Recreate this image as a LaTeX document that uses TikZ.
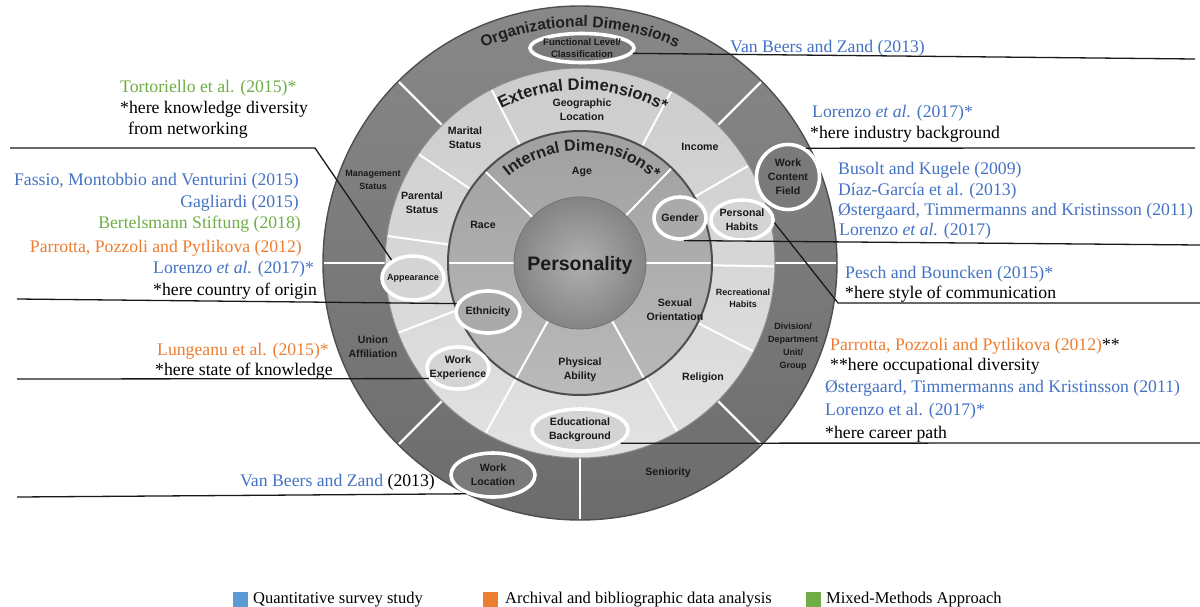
\documentclass[tikz,border=0pt]{standalone}
\usepackage{fontspec}
\setmainfont{Liberation Serif}
\newfontfamily\wf{Liberation Sans}
\usetikzlibrary{shapes.geometric,decorations.text}
\definecolor{cblue}{RGB}{68,114,196}
\definecolor{corange}{RGB}{237,125,49}
\definecolor{cgreen}{RGB}{112,173,71}
\definecolor{lblue}{RGB}{91,155,213}
\definecolor{orgtop}{RGB}{136,136,136}
\definecolor{orgbot}{RGB}{108,108,108}
\definecolor{orgfill}{RGB}{122,122,122}
\definecolor{exttop}{RGB}{204,204,204}
\definecolor{extbot}{RGB}{226,226,226}
\definecolor{extfill}{RGB}{212,212,212}
\definecolor{inttop}{RGB}{160,160,160}
\definecolor{intbot}{RGB}{186,186,186}
\definecolor{intfill}{RGB}{170,170,170}
\definecolor{pers1}{RGB}{176,176,176}
\definecolor{pers2}{RGB}{132,132,132}
\definecolor{edgegray}{RGB}{78,78,78}
\tikzset{
  cite/.style={inner sep=0pt, anchor=base west, font=\fontsize{17.7}{20}\selectfont},
  citer/.style={cite, anchor=base east},
  wl/.style={inner sep=0pt, align=center, text=black!90, font=\wf\bfseries\fontsize{10.6}{14}\selectfont},
  wls/.style={wl, font=\wf\bfseries\fontsize{9}{12.5}\selectfont},
  hl/.style={ellipse, draw=white, line width=3.6pt, inner sep=0pt},
  conn/.style={line width=1.3pt, black!90},
  divider/.style={white, line width=2pt},
  legsq/.style={minimum width=15pt, minimum height=15pt, inner sep=0pt},
  legt/.style={inner sep=0pt, anchor=base west, font=\fontsize{16.5}{18}\selectfont},
}
\begin{document}
\begin{tikzpicture}[x=1pt,y=1pt]
\useasboundingbox (0,0) rectangle (1200,-606);
\fill[white] (0,0) rectangle (1200,-606);
\clip (0,0) rectangle (1200,-606);

% ---------------- wheel ----------------
\begin{scope}[shift={(580,-263)}]
  \shade[top color=orgtop, bottom color=orgbot] (0,0) circle (257);
  \foreach \a in {0,45,135,180,225,270,315}
    \draw[divider, line width=2.4pt] (\a:195) -- (\a:256);
  \draw[edgegray, line width=1.4pt] (0,0) circle (257);
  \shade[top color=exttop, bottom color=extbot] (0,0) circle (195);
  \draw[black!45, line width=1pt] (0,0) circle (195);
  \foreach \a in {-1,30,62,117,146,172,201,241,300,333}
    \draw[divider] (\a:132) -- (\a:194);
  \shade[top color=inttop, bottom color=intbot] (0,0) circle (132);
  \draw[edgegray, line width=2pt] (0,0) circle (132);
  \foreach \a in {0,46,136,180,241,299}
    \draw[divider] (\a:66) -- (\a:131);
  \shade[inner color=pers1, outer color=pers2] (0,0) circle (66);
  \draw[black!55, line width=0.8pt] (0,0) circle (66);

  \path[decorate, decoration={text along path, text align=center,
     text={|\wf\bfseries\fontsize{15.5}{16}\selectfont\color{black!88}|Organizational Dimensions}}]
     (165:236) arc[start angle=165, end angle=15, radius=236];
  \path[decorate, decoration={text along path, text align=center,
     text={|\wf\bfseries\fontsize{16.5}{17}\selectfont\color{black!88}|External Dimensions*}}]
     (165:173) arc[start angle=165, end angle=13, radius=173];
  \path[decorate, decoration={text along path, text align=center,
     text={|\wf\bfseries\fontsize{16}{17}\selectfont\color{black!88}|Internal Dimensions*}}]
     (170:112) arc[start angle=170, end angle=8, radius=112];
\end{scope}

% plain wheel labels
\node[wl] (geo) at (582,-109.5) {Geographic\\Location};
\node[wl] (mar) at (465,-137.5) {Marital\\Status};
\node[wl] (inc) at (700,-147) {Income};
\node[wl] (age) at (582,-172) {Age};
\node[wls] (mgmt) at (373,-180) {Management\\Status};
\node[wl] (par) at (422,-202.5) {Parental\\Status};
\node[wl] (race) at (483,-225) {Race};
\node[wl, font=\wf\bfseries\fontsize{19.5}{20}\selectfont] (pers) at (580,-265) {Personality};
\node[wl] (sex) at (675,-310) {Sexual\\Orientation};
\node[wls] (rec) at (743,-298.5) {Recreational\\Habits};
\node[wl] (union) at (373,-346.5) {Union\\Affiliation};
\node[wl] (phys) at (580,-369.5) {Physical\\Ability};
\node[wl] (rel) at (703,-378) {Religion};
\node[wls, font=\wf\bfseries\fontsize{9}{13}\selectfont] (div) at (793,-347) {Division/\\Department\\Unit/\\Group};
\node[wl] (sen) at (668,-473) {Seniority};

% highlighted ellipses
\node[hl, fill=orgfill, minimum width=104, minimum height=29] (func) at (582,-48) {};
\node[hl, fill=orgfill, minimum width=63, minimum height=65] (wcf) at (788,-177) {};
\node[hl, fill=extfill, minimum width=62, minimum height=40] (ph) at (742,-220) {};
\node[hl, fill=intfill, minimum width=52, minimum height=42] (gender) at (680,-218) {};
\node[hl, fill=extfill, minimum width=62, minimum height=44] (app) at (413,-278) {};
\node[hl, fill=intfill, minimum width=64, minimum height=42] (eth) at (488,-312) {};
\node[hl, fill=extfill, minimum width=62, minimum height=42] (wexp) at (458,-368) {};
\node[hl, fill=extfill, minimum width=96, minimum height=42] (edu) at (580,-430) {};
\node[hl, fill=orgfill, minimum width=84, minimum height=44] (wloc) at (493,-475) {};

\node[wl, font=\wf\bfseries\fontsize{9.5}{12.5}\selectfont] (funct) at (func.center) {Functional Level/\\Classification};
\node[wl] (wcft) at (wcf.center) {Work\\Content\\Field};
\node[wl] (pht) at (ph.center) {Personal\\Habits};
\node[wl] (gent) at (gender.center) {Gender};
\node[wls] (appt) at (app.center) {Appearance};
\node[wl] (etht) at (eth.center) {Ethnicity};
\node[wl] (wexpt) at (wexp.center) {Work\\Experience};
\node[wl] (edut) at (edu.center) {Educational\\Background};
\node[wl] (wloct) at (wloc.center) {Work\\Location};

% ---------------- citations left ----------------
\node[cite, text=cgreen] (t1) at (120,-92) {Tortoriello et al. (2015)*};
\node[cite] (t2) at (120,-113) {*here knowledge diversity};
\node[cite] (t3) at (128,-134) {from networking};
\node[citer, text=cblue] (t4) at (299,-185) {Fassio, Montobbio and Venturini (2015)};
\node[citer, text=cblue] (t5) at (299,-207) {Gagliardi (2015)};
\node[citer, text=cgreen] (t6) at (301,-228) {Bertelsmann Stiftung (2018)};
\node[citer, text=corange] (t7) at (302,-252) {Parrotta, Pozzoli and Pytlikova (2012)};
\node[cite, text=cblue] (t8) at (153,-273) {Lorenzo \textit{et al.} (2017)*};
\node[cite] (t9) at (153,-295) {*here country of origin};
\node[cite, text=corange] (t10) at (157,-355) {Lungeanu et al. (2015)*};
\node[cite] (t11) at (155,-375) {*here state of knowledge};
\node[citer] (t12) at (435,-486) {\textcolor{cblue}{Van Beers and Zand} (2013)};

% ---------------- citations right ----------------
\node[cite, text=cblue] (r1) at (730,-52) {Van Beers and Zand (2013)};
\node[cite, text=cblue] (r2) at (812,-117) {Lorenzo \textit{et al.} (2017)*};
\node[cite] (r3) at (810,-138) {*here industry background};
\node[cite, text=cblue] (r4) at (838,-174) {Busolt and Kugele (2009)};
\node[cite, text=cblue] (r5) at (838,-195) {Díaz-García et al. (2013)};
\node[cite, text=cblue] (r6) at (838,-215) {Østergaard, Timmermanns and Kristinsson (2011)};
\node[cite, text=cblue] (r7) at (839,-235) {Lorenzo \textit{et al.} (2017)};
\node[cite, text=cblue] (r8) at (845,-278) {Pesch and Bouncken (2015)*};
\node[cite] (r9) at (845,-298) {*here style of communication};
\node[cite] (r10) at (830,-350) {\textcolor{corange}{Parrotta, Pozzoli and Pytlikova (2012)}**};
\node[cite] (r11) at (830,-370) {**here occupational diversity};
\node[cite, text=cblue] (r12) at (825,-392) {Østergaard, Timmermanns and Kristinsson (2011)};
\node[cite, text=cblue] (r13) at (825,-415) {Lorenzo et al. (2017)*};
\node[cite] (r14) at (825,-438) {*here career path};

% ---------------- connectors ----------------
\coordinate (eFunc) at (1195,-59);
\coordinate (eWcf) at (1195,-148);
\coordinate (eGen) at (1200,-245);
\coordinate (bPh) at (838,-303);
\coordinate (ePh) at (1200,-303);
\coordinate (eEdu) at (1200,-443);
\coordinate (bApp) at (315,-148);
\coordinate (eApp) at (10,-148);
\coordinate (eEth) at (17,-299);
\coordinate (eWexp) at (17,-379);
\coordinate (eWloc) at (17,-497);

\draw[conn] (func.-6) -- (eFunc);
\draw[conn] (wcf.58) -- (eWcf);
\draw[conn] (gender.-80) -- (eGen);
\draw[conn] (ph.-5) -- (bPh) -- (ePh);
\draw[conn] (edu.-18) -- (eEdu);
\draw[conn] (app.140) -- (bApp) -- (eApp);
\draw[conn] (eth.165) -- (eEth);
\draw[conn] (wexp.200) -- (eWexp);
\draw[conn] (wloc.215) -- (eWloc);

% ---------------- legend ----------------
\node[legsq, fill=lblue] (lq1) at (240,-599.5) {};
\node[legt] (lt1) at (253,-603) {Quantitative survey study};
\node[legsq, fill=corange] (lq2) at (490.5,-599.5) {};
\node[legt] (lt2) at (505,-603) {Archival and bibliographic data analysis};
\node[legsq, fill=cgreen] (lq3) at (813,-599.5) {};
\node[legt] (lt3) at (826,-603) {Mixed-Methods Approach};
\end{tikzpicture}
\end{document}
